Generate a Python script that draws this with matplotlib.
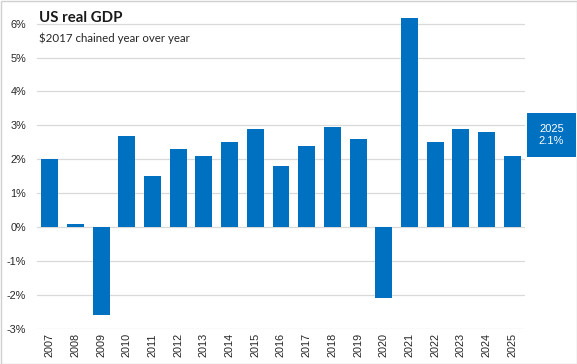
import matplotlib
matplotlib.use('Agg')

import matplotlib.pyplot as plt
from matplotlib.patches import Rectangle
from matplotlib.ticker import FuncFormatter

# Данные: рост реального ВВП США, % год к году
years = [str(y) for y in range(2007, 2026)]
growth = [2.0, 0.1, -2.6, 2.7, 1.5, 2.3, 2.1, 2.5, 2.9, 1.8,
          2.4, 2.95, 2.6, -2.1, 6.15, 2.5, 2.9, 2.8, 2.1]

blue = '#0070C0'
grid_gray = '#D9D9D9'
W, H = 577, 364

plt.rcParams['font.family'] = ['Liberation Sans', 'DejaVu Sans']

fig = plt.figure(figsize=(W / 100, H / 100), dpi=100)
ax = fig.add_axes([37 / W, (H - 329) / H, 488 / W, 315.6 / H])

ax.bar(range(len(years)), growth, width=0.66, color=blue, zorder=3)
ax.set_xlim(-0.5, len(years) - 0.5)
ax.set_ylim(-3, 6.3)
ax.set_yticks(range(-3, 7))
ax.yaxis.set_major_formatter(FuncFormatter(lambda v, p: f'{int(v)}%'))
ax.set_xticks(range(len(years)))
ax.set_xticklabels(years, rotation=90)
ax.tick_params(axis='both', length=0, labelsize=7.8, colors='#262626')
ax.tick_params(axis='y', pad=8)
ax.tick_params(axis='x', pad=3)
ax.grid(axis='y', color=grid_gray, linewidth=0.9, zorder=0)
for s in ax.spines.values():
    s.set_visible(False)

# Заголовки
fig.text(39 / W, 1 - 22 / H, 'US real GDP', fontsize=10.8, fontweight='bold',
         family=['Lato', 'DejaVu Sans'], color='#1a1a1a')
fig.text(39 / W, 1 - 42 / H, '$2017 chained year over year', fontsize=8.3,
         family=['Lato', 'DejaVu Sans'], color='#262626')

# Подпись последнего значения справа
fig.patches.append(Rectangle((527 / W, 1 - 157 / H), 49 / W, 44 / H,
                             transform=fig.transFigure, facecolor=blue,
                             edgecolor='none', zorder=5))
fig.text(551.5 / W, 1 - 135 / H, f'{years[-1]}\n{growth[-1]:.1f}%',
         ha='center', va='center', color='white', fontsize=8,
         linespacing=1.3, zorder=6)

# Рамка вокруг рисунка
fig.patches.append(Rectangle((0.5 / W, 0.5 / H), 1 - 1 / W, 1 - 1 / H,
                             transform=fig.transFigure, facecolor='none',
                             edgecolor='#D0D0D0', linewidth=1))

fig.savefig('out.png', dpi=100)
